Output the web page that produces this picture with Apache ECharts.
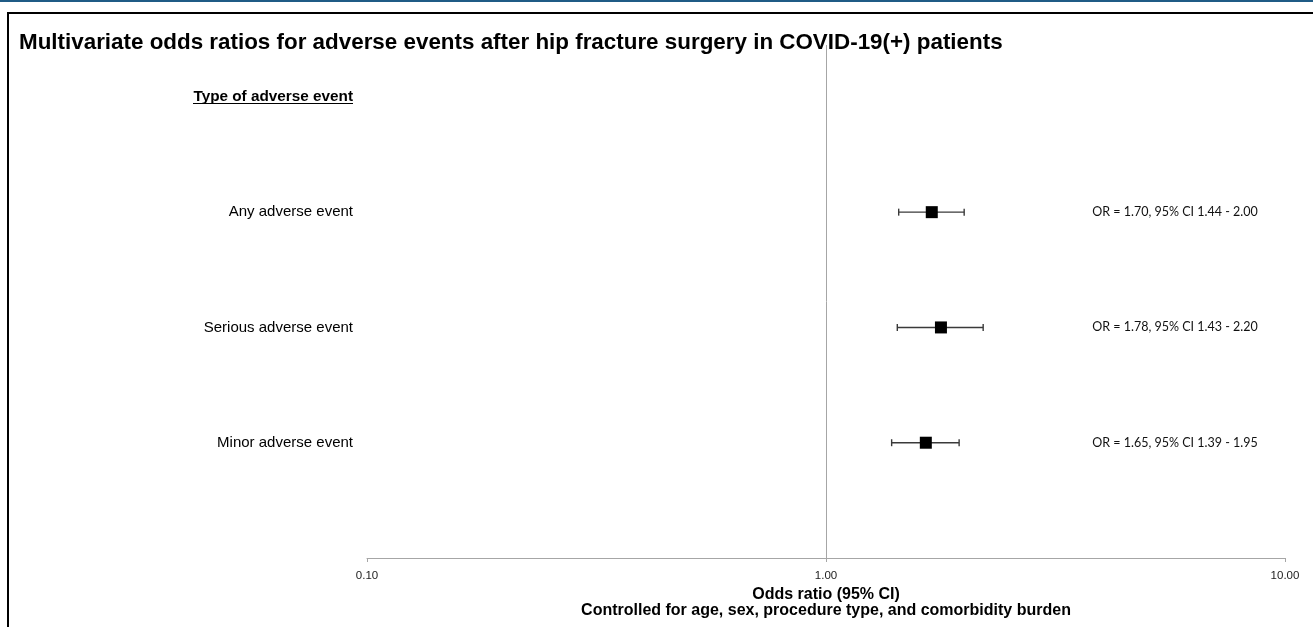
<!DOCTYPE html>
<html>
<head>
<meta charset="utf-8">
<script src="https://cdn.jsdelivr.net/npm/echarts@6/dist/echarts.min.js"></script>
<style>
html,body{margin:0;padding:0;background:#fff;}
#chart{width:1313px;height:627px;}
</style>
</head>
<body>
<div id="chart"></div>
<script>
const titleText = 'Multivariate odds ratios for adverse events after hip fracture surgery in COVID-19(+) patients';
const headerLabel = 'Type of adverse event';
const categories = ['Any adverse event', 'Serious adverse event', 'Minor adverse event'];
const orValues = [1.70, 1.78, 1.65];
const ciLow = [1.44, 1.43, 1.39];
const ciHigh = [2.00, 2.20, 1.95];
const xTicks = [0.1, 1, 10];
const axisName1 = 'Odds ratio (95% CI)';
const axisName2 = 'Controlled for age, sex, procedure type, and comorbidity burden';

const rowPos = categories.map((c, i) => i + 1);
const pointData = orValues.map((v, i) => [v, rowPos[i]]);
const barData = orValues.map((v, i) => [ciLow[i], ciHigh[i], rowPos[i], v]);

const chart = echarts.init(document.getElementById('chart'), null, {renderer: 'canvas'});
const option = {
  backgroundColor: '#fff',
  animation: false,
  title: {
    text: titleText,
    left: 14, top: 27,
    textStyle: {fontFamily: 'Liberation Sans', fontWeight: 'bold', fontSize: 22.4, color: '#000'}
  },
  graphic: [
    {type: 'rect', shape: {x: 0, y: 0, width: 1313, height: 2}, style: {fill: '#1f5b85'}, silent: true},
    {type: 'rect', shape: {x: 8, y: 13, width: 1400, height: 700}, style: {fill: 'none', stroke: '#000', lineWidth: 2}, silent: true},
    {type: 'line', shape: {x1: 193, y1: 103.5, x2: 353, y2: 103.5}, style: {stroke: '#000', lineWidth: 1}, silent: true}
  ],
  grid: {left: 367, right: 28, top: 45, bottom: 69},
  xAxis: {
    type: 'log', logBase: 10, min: xTicks[0], max: xTicks[xTicks.length - 1],
    position: 'bottom',
    axisLine: {show: true, onZero: false, lineStyle: {color: '#a6a6a6', width: 1}},
    axisTick: {show: true, length: 4, lineStyle: {color: '#a6a6a6'}},
    splitLine: {show: false},
    axisLabel: {
      formatter: v => Number(v).toFixed(2),
      fontFamily: 'Liberation Sans', fontSize: 11.5, color: '#222', margin: 12
    },
    name: axisName1 + '\n' + axisName2,
    nameLocation: 'middle', nameGap: 29,
    nameTextStyle: {fontFamily: 'Liberation Sans', fontWeight: 'bold', fontSize: 16, color: '#000', lineHeight: 16}
  },
  yAxis: {
    type: 'value', inverse: true, min: -0.45, max: 4,
    axisLine: {show: false}, axisTick: {show: false}, splitLine: {show: false},
    axisLabel: {
      customValues: [0].concat(rowPos),
      margin: 14,
      fontFamily: 'Liberation Sans', fontSize: 15, color: '#000',
      formatter: v => v === 0 ? '{h|' + headerLabel + '}' : categories[v - 1],
      rich: {h: {fontFamily: 'Liberation Sans', fontWeight: 'bold', fontSize: 15.3, color: '#000'}}
    }
  },
  series: [
    {
      type: 'custom',
      data: barData,
      z: 3,
      renderItem: (params, api) => {
        const lo = api.coord([api.value(0), api.value(2)]);
        const hi = api.coord([api.value(1), api.value(2)]);
        const cap = 3.5;
        const st = {stroke: '#3a3a3a', lineWidth: 1.4};
        const i = params.dataIndex;
        const cs = params.coordSys;
        return {
          type: 'group',
          children: [
            {type: 'line', shape: {x1: lo[0], y1: lo[1], x2: hi[0], y2: hi[1]}, style: st},
            {type: 'line', shape: {x1: lo[0], y1: lo[1] - cap, x2: lo[0], y2: lo[1] + cap}, style: st},
            {type: 'line', shape: {x1: hi[0], y1: hi[1] - cap, x2: hi[0], y2: hi[1] + cap}, style: st},
            {type: 'text', x: cs.x + cs.width - 110, y: lo[1],
              style: {text: 'OR = ' + orValues[i].toFixed(2) + ', 95% CI ' + ciLow[i].toFixed(2) + ' - ' + ciHigh[i].toFixed(2),
                fontFamily: 'Lato', fontSize: 12.5, fill: '#111', align: 'center', verticalAlign: 'middle'}}
          ]
        };
      }
    },
    {
      type: 'scatter',
      data: pointData,
      symbol: 'rect', symbolSize: 12,
      itemStyle: {color: '#000', opacity: 1},
      z: 4,
      markLine: {
        silent: true, symbol: 'none', label: {show: false},
        lineStyle: {color: '#a6a6a6', width: 1, type: 'solid'},
        data: [{xAxis: 1}]
      }
    }
  ]
};
chart.setOption(option);
</script>
</body>
</html>
